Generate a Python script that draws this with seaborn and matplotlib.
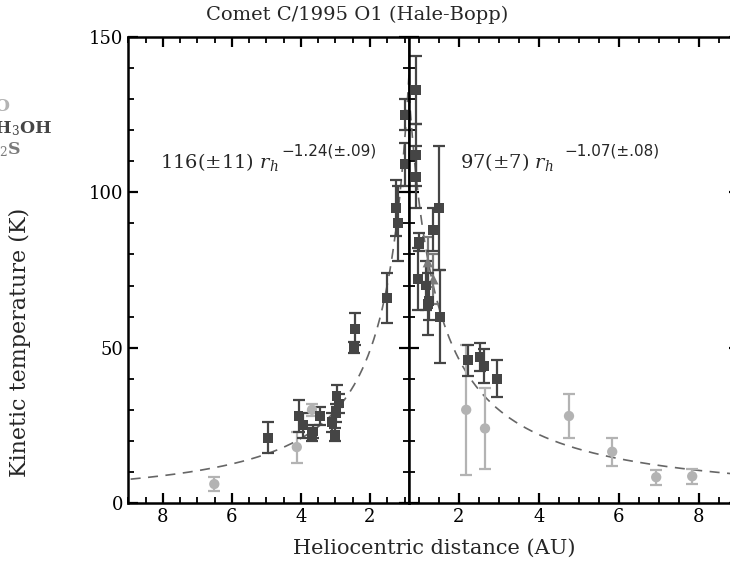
import matplotlib
matplotlib.use("Agg")
import matplotlib.pyplot as plt
from matplotlib.ticker import MultipleLocator
import numpy as np
import pandas as pd
import seaborn as sns

# pre-perihelion (left panel)
pre_ch3oh_r = [4.95, 4.07, 3.95, 3.68, 3.64, 3.45, 3.10, 3.02, 2.99, 2.97, 2.90,
               2.44, 2.47, 1.50, 1.24, 1.19, 1.00, 1.00]
pre_ch3oh_t = [21.0, 28.0, 25.0, 22.0, 23.0, 28.0, 26.0, 22.0, 29.0, 34.5, 32.0,
               56.0, 50.0, 66.0, 95.0, 90.0, 125.0, 109.0]
pre_ch3oh_e = [5, 5, 4, 2, 2, 3, 3, 2, 3, 3.5, 3, 5, 1.7, 8, 9, 12, 5, 7]
pre_co_r = [6.51, 4.12, 3.68]
pre_co_t = [6.1, 18.0, 30.0]
pre_co_e = [2.2, 5, 2]

# post-perihelion (right panel)
post_ch3oh_r = [0.92, 0.92, 0.92, 1.00, 0.97, 1.175, 1.22, 1.26, 1.36, 1.51, 1.53,
                2.22, 2.53, 2.63, 2.94]
post_ch3oh_t = [133.0, 112.0, 105.0, 84.0, 72.0, 70.0, 64.0, 65.0, 88.0, 95.0, 60.0,
                46.0, 47.0, 44.0, 40.0]
post_ch3oh_e = [11, 10, 10, 3, 10, 8, 10, 6, 7, 20, 15, 5, 4.5, 5.5, 6]
post_h2s_r = [1.22, 1.36]
post_h2s_t = [77.5, 72.0]
post_h2s_e = [8, 8]
post_co_r = [2.18, 2.65, 4.75, 5.83, 6.93, 7.83]
post_co_t = [30.0, 24.0, 28.0, 16.5, 8.3, 8.6]
post_co_e = [21, 13, 7, 4.5, 2.4, 2.4]

# power-law fits T = A r^-b
pre_fit = (116, 1.24)
post_fit = (97, 1.07)

c_ch3oh = "#454545"
c_co = "#b3b3b3"
c_h2s = "#7a7a7a"
c_fit = "#666666"

sns.set_style("ticks")
plt.rcParams["font.family"] = ["DejaVu Serif"]
plt.rcParams["mathtext.fontset"] = "dejavuserif"

W, H = 730, 561
fig = plt.figure(figsize=(W / 100, H / 100), dpi=100)
x0, xm, y0, y1 = 128, 409, 503, 37
ax_l = fig.add_axes([x0 / W, (H - y0) / H, (xm - x0) / W, (y0 - y1) / H])
ax_r = fig.add_axes([xm / W, (H - y0) / H, 330 / W, (y0 - y1) / H])


def draw(ax, r, t, e, color, marker, size):
    ax.errorbar(r, t, yerr=e, fmt="none", ecolor=color, elinewidth=1.6,
                capsize=4.5, capthick=1.6, zorder=2)
    df = pd.DataFrame({"r": r, "t": t})
    sns.scatterplot(data=df, x="r", y="t", ax=ax, color=color, marker=marker,
                    s=size, edgecolor="none", zorder=3, legend=False)


def fit_line(ax, lo, hi, fit):
    rr = np.linspace(lo, hi, 300)
    df = pd.DataFrame({"r": rr, "t": fit[0] * rr ** (-fit[1])})
    sns.lineplot(data=df, x="r", y="t", ax=ax, color=c_fit, lw=1.2,
                 linestyle=(0, (6, 4.5)), zorder=1)


fit_line(ax_l, 0.87, 9.1, pre_fit)
draw(ax_l, pre_co_r, pre_co_t, pre_co_e, c_co, "o", 55)
draw(ax_l, pre_ch3oh_r, pre_ch3oh_t, pre_ch3oh_e, c_ch3oh, "s", 50)

fit_line(ax_r, 0.75, 9.1, post_fit)
draw(ax_r, post_co_r, post_co_t, post_co_e, c_co, "o", 55)
draw(ax_r, post_h2s_r, post_h2s_t, post_h2s_e, c_h2s, "^", 55)
draw(ax_r, post_ch3oh_r, post_ch3oh_t, post_ch3oh_e, c_ch3oh, "s", 50)

ax_l.set_xlim(9.01, 0.87)
ax_r.set_xlim(0.75, 9.0)
for ax in (ax_l, ax_r):
    ax.set_ylim(0, 150)
    ax.xaxis.set_major_locator(MultipleLocator(2))
    ax.xaxis.set_minor_locator(MultipleLocator(0.5))
    ax.yaxis.set_major_locator(MultipleLocator(50))
    ax.yaxis.set_minor_locator(MultipleLocator(10))
    ax.tick_params(which="both", direction="in", top=True, right=True,
                   left=True, bottom=True, colors="black", labelsize=13)
    ax.tick_params(which="major", length=7, width=1.6)
    ax.tick_params(which="minor", length=4, width=1.3)
    for sp in ax.spines.values():
        sp.set_visible(True)
        sp.set_linewidth(1.8)
        sp.set_color("black")
    ax.set_xlabel("")
    ax.set_ylabel("")
    ax.set_facecolor("white")

ax_l.set_xticks([8, 6, 4, 2])
ax_r.set_xticks([2, 4, 6, 8])
ax_r.tick_params(labelleft=False)
ax_l.set_yticks([0, 50, 100, 150])

# fit annotations: base text plus a larger superscript
fig.text(160 / W, 1 - 162 / H, r"116($\pm$11) $r_h$", fontsize=14,
         va="center", ha="left")
fig.text(281 / W, 1 - 151 / H, "\u22121.24(\u00b1.09)", fontsize=11,
         va="center", ha="left", family=["DejaVu Sans"])
fig.text(460 / W, 1 - 162 / H, r"97($\pm$7) $r_h$", fontsize=14,
         va="center", ha="left")
fig.text(564 / W, 1 - 151 / H, "\u22121.07(\u00b1.08)", fontsize=11,
         va="center", ha="left", family=["DejaVu Sans"])

fig.text(357 / W, 1 - 15 / H, "Comet C/1995 O1 (Hale-Bopp)", fontsize=14,
         ha="center", va="center")
fig.text(434 / W, 1 - 548 / H, "Heliocentric distance (AU)", fontsize=15,
         ha="center", va="center")
fig.text(20 / W, 1 - 342 / H, "Kinetic temperature (K)", fontsize=16,
         ha="center", va="center", rotation=90)

# legend labels, cut off at the left edge as in the reference
fig.text(10 / W, 1 - 107 / H, "CO", color=c_co, fontsize=12.5, ha="right",
         va="center", fontweight="bold")
fig.text(52 / W, 1 - 129 / H, r"CH$_3$OH", color=c_ch3oh, fontsize=12.5,
         ha="right", va="center", fontweight="bold")
fig.text(21 / W, 1 - 150 / H, r"H$_2$S", color=c_h2s, fontsize=12.5,
         ha="right", va="center", fontweight="bold")

fig.savefig("out.png", dpi=100, facecolor="white")
